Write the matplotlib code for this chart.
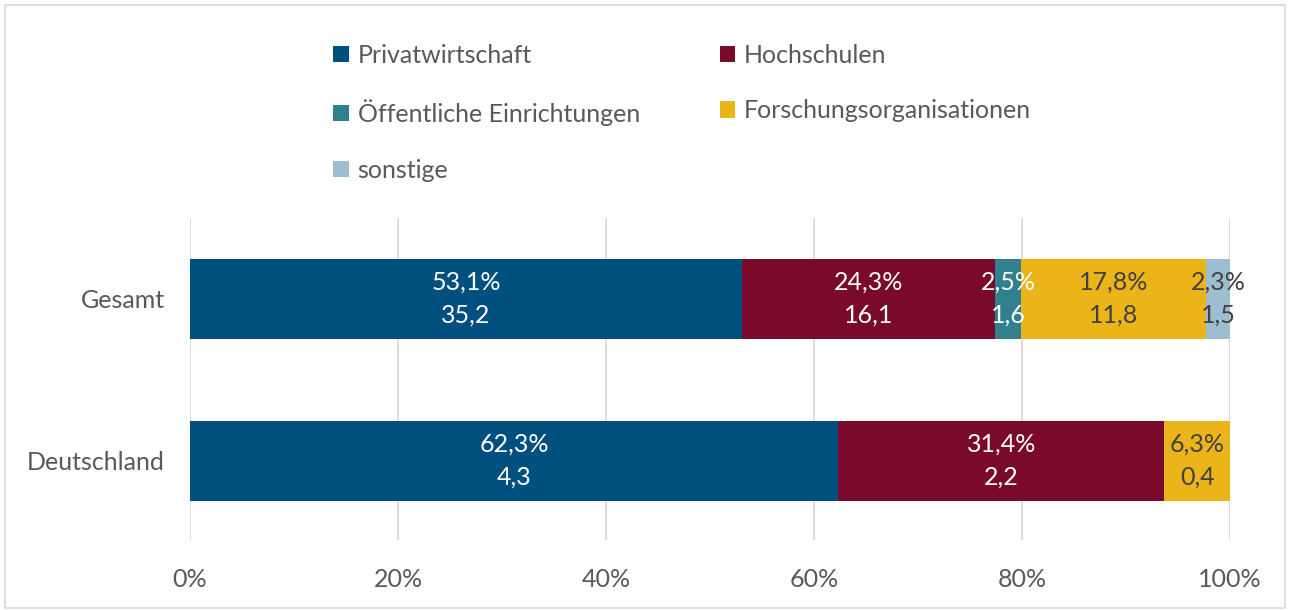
import matplotlib.pyplot as plt
from matplotlib.patches import Rectangle

plt.rcParams['font.family'] = ['Lato', 'DejaVu Sans']

# Daten
regions = ["Deutschland", "Gesamt"]
categories = ["Privatwirtschaft", "Hochschulen", "Öffentliche Einrichtungen",
              "Forschungsorganisationen", "sonstige"]
percent = {
    "Gesamt": [53.1, 24.3, 2.5, 17.8, 2.3],
    "Deutschland": [62.3, 31.4, 0.0, 6.3, 0.0],
}
absolute = {
    "Gesamt": [35.2, 16.1, 1.6, 11.8, 1.5],
    "Deutschland": [4.3, 2.2, 0.0, 0.4, 0.0],
}
colors = ["#00507F", "#7A0A2B", "#31808D", "#EBB519", "#9DBDD1"]
label_colors = ["white", "white", "white", "#404040", "#404040"]
text_gray = "#595959"
fs = 18

fig = plt.figure(figsize=(12.9, 6.1), dpi=100)
ax = fig.add_axes([0.1473, 0.115, 0.8062, 0.528])

for yi, reg in enumerate(regions):
    left = 0
    for ci, cat in enumerate(categories):
        w = percent[reg][ci]
        ax.barh(yi, w, left=left, height=0.494, color=colors[ci],
                label=cat if yi == 0 else None, zorder=2)
        if w > 0:
            txt = f"{w:.1f}%".replace(".", ",") + "\n" + f"{absolute[reg][ci]:.1f}".replace(".", ",")
            ax.text(left + w / 2, yi, txt, ha="center", va="center",
                    color=label_colors[ci], fontsize=fs, linespacing=1.52, zorder=3)
        left += w

ax.set_xlim(0, 100)
ax.set_ylim(-0.49, 1.5)
ax.set_xticks(range(0, 101, 20))
ax.set_xticklabels([f"{v}%" for v in range(0, 101, 20)])
ax.set_yticks(range(len(regions)))
ax.set_yticklabels(regions)
ax.tick_params(axis="both", length=0, labelsize=fs, labelcolor=text_gray)
ax.tick_params(axis="x", pad=20)
ax.tick_params(axis="y", pad=18)
ax.grid(axis="x", color="#D9D9D9", linewidth=1.3, zorder=0)
for s in ax.spines.values():
    s.set_visible(False)

handles, labels = ax.get_legend_handles_labels()
# reihenfolge zeilenweise in 2 spalten
order = [0, 2, 4, 1, 3]
leg = fig.legend([handles[i] for i in order], [labels[i] for i in order],
                 ncol=2, loc="upper left", bbox_to_anchor=(0.241, 0.965),
                 frameon=False, fontsize=fs, labelcolor=text_gray,
                 handlelength=0.62, handleheight=0.62, handletextpad=0.35,
                 columnspacing=3.2, labelspacing=1.3)

fig.patches.append(Rectangle((0.004, 0.004), 0.992, 0.988, transform=fig.transFigure,
                             fill=False, edgecolor="#D9D9D9", linewidth=1.2))

fig.savefig("out.png", dpi=100)
